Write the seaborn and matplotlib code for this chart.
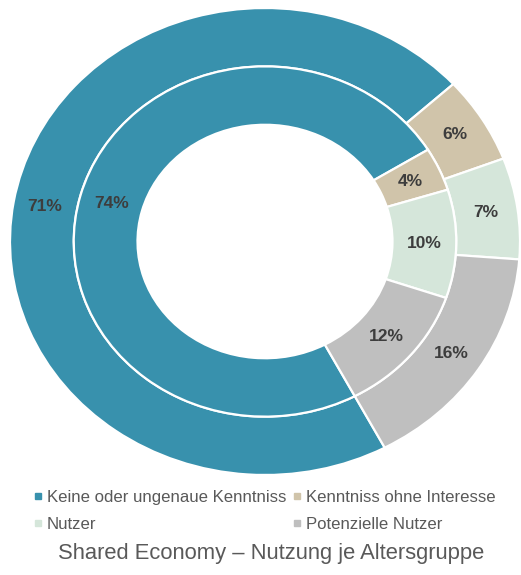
import matplotlib
matplotlib.use("Agg")
import matplotlib.pyplot as plt
import seaborn as sns
from matplotlib.lines import Line2D

categories = ["Keine oder ungenaue Kenntniss", "Kenntniss ohne Interesse",
              "Nutzer", "Potenzielle Nutzer"]
outer_values = [71, 6, 7, 16]
inner_values = [74, 4, 10, 12]
colors = ["#3891ad", "#d0c4aa", "#d5e6da", "#bfbfbf"]
title = "Shared Economy \u2013 Nutzung je Altersgruppe"

sns.set_theme(style="white")
plt.rcParams['font.family'] = ['Liberation Sans', 'DejaVu Sans']
palette = sns.color_palette(colors)

fig = plt.figure(figsize=(5.21, 5.75), dpi=100)
ax = fig.add_axes([10 / 521, 100 / 575, 510 / 521, 467 / 575])

fmt = lambda p: f"{p:.0f}%"
wp = dict(width=0.25, edgecolor="white", linewidth=1.6)
tp = dict(fontsize=12.5, fontweight="bold", color="#3d3d3d")

ax.pie(outer_values, radius=1.0, colors=palette, startangle=-62,
       counterclock=False, wedgeprops=wp, autopct=fmt, pctdistance=0.875,
       textprops=tp)
ax.pie(inner_values, radius=0.75, colors=palette, startangle=-62,
       counterclock=False, wedgeprops=wp, autopct=fmt, pctdistance=0.833,
       textprops=tp)
ax.set_aspect("auto")
ax.set_xlim(-1.0, 1.0)
ax.set_ylim(-1.0, 1.0)
ax.axis("off")

handles = [Line2D([], [], marker="s", linestyle="", markersize=4.5,
                  markerfacecolor=c, markeredgecolor=c) for c in palette]
order = [0, 2, 1, 3]
fig.legend([handles[i] for i in order], [categories[i] for i in order],
           ncol=2, loc="center", bbox_to_anchor=(0.508, 1 - 511 / 575),
           frameon=False, fontsize=12.1, labelcolor="#595959",
           handlelength=0.5, handletextpad=0.3, columnspacing=0.4,
           labelspacing=0.72)

fig.text(0.52, 1 - 554 / 575, title, ha="center", va="center",
         fontsize=15.8, color="#595959")

fig.savefig("out.png", dpi=100)
